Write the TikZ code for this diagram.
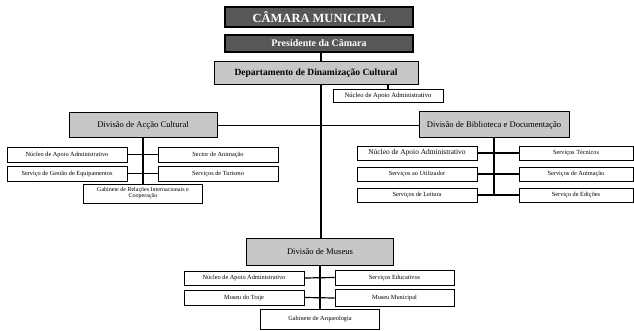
\documentclass[tikz,border=0pt]{standalone}
\usepackage{fontspec}
\setmainfont{Liberation Serif}
\usetikzlibrary{calc}

\begin{document}
\begin{tikzpicture}[x=1pt,y=-1pt,
    topbox/.style={draw=black,line width=1.4pt,fill=topcolor,text=white,font=\fontsize{12.5}{14}\bfseries,inner sep=0pt},
    divbox/.style={draw=black,line width=1pt,fill=divcolor,font=\fontsize{8.6}{10}\selectfont,inner sep=0pt},
    unitbox/.style={draw=black,line width=0.8pt,fill=white,font=\fontsize{6.3}{7}\selectfont,inner sep=0pt,align=center},
    link/.style={black,line width=1.2pt}]
    % Colores
    \colorlet{topcolor}{black!66}
    \colorlet{divcolor}{black!22}

    % Fondo
    \useasboundingbox (0,0) rectangle (634,331);
    \fill[white] (0,0) rectangle (634,331);

    % Coordenadas de los ejes
    \coordinate (trunk) at (321,0);

    % Presidencia y departamento
    \node[topbox,minimum width=188pt,minimum height=20pt] (camara) at (319,17) {CÂMARA MUNICIPAL};
    \node[topbox,minimum width=188pt,minimum height=17pt,font=\fontsize{10}{11}\bfseries] (pres) at (319,43.5) {Presidente da Câmara};
    \node[divbox,minimum width=204pt,minimum height=23pt,font=\fontsize{9.5}{11}\bfseries] (dept) at (316,73.5) {Departamento de Dinamização Cultural};
    \node[unitbox,minimum width=110pt,minimum height=13pt,font=\fontsize{6.6}{7}\selectfont] (dnuc) at (388,95.5) {Núcleo de Apoio Administrativo};

    \draw[link] (trunk |- pres.south) -- (trunk |- dept.north);
    \draw[link] (trunk |- dept.south) -- (trunk |- 0,238);
    \draw[link] (dnuc.north) -- (dnuc.north |- dept.south);

    % Divisiones
    \node[divbox,minimum width=148pt,minimum height=25pt] (acc) at (143,125.5) {Divisão\ de Acção Cultural};
    \node[divbox,minimum width=150pt,minimum height=26pt] (bib) at (494,125) {Divisão\ de Biblioteca e Documentação};
    \node[divbox,minimum width=147pt,minimum height=27pt] (mus) at (320,251.5) {Divisão\ de Museus};

    \draw[link] (acc.east) -- (acc.east -| bib.west);

    % Divisão de Acção Cultural
    \node[unitbox,minimum width=120pt,minimum height=15pt] (anuc) at (67,154.5) {Núcleo de Apoio Administrativo};
    \node[unitbox,minimum width=120pt,minimum height=15pt] (asec) at (218,154.5) {Sector de Animação};
    \node[unitbox,minimum width=120pt,minimum height=15pt] (ager) at (67,173.5) {Serviço de Gestão de Equipamentos};
    \node[unitbox,minimum width=120pt,minimum height=15pt] (atur) at (218,173.5) {Serviços de Turismo};
    \node[unitbox,minimum width=119pt,minimum height=19pt,font=\fontsize{6}{6}\selectfont] (agab) at (143,193.5) {Gabinete de Relações Internacionais e\\Cooperação};

    \draw[link] (acc.south) -- (agab.north);
    \foreach \l/\r in {anuc/asec,ager/atur}
    {
        \draw[link] (\l.east) -- (\r.west);
    }

    % Divisão de Biblioteca e Documentação
    \node[unitbox,minimum width=120pt,minimum height=14pt,font=\fontsize{7.4}{8}\selectfont] (bnuc) at (417,153) {Núcleo de Apoio Administrativo};
    \node[unitbox,minimum width=114pt,minimum height=14pt] (btec) at (576,153) {Serviços Técnicos};
    \node[unitbox,minimum width=120pt,minimum height=14pt] (buti) at (417,174) {Serviços ao Utilizador};
    \node[unitbox,minimum width=114pt,minimum height=14pt] (bani) at (576,174) {Serviços de Animação};
    \node[unitbox,minimum width=120pt,minimum height=14pt] (blei) at (417,195) {Serviços de Leitura};
    \node[unitbox,minimum width=114pt,minimum height=14pt] (bedi) at (576,195) {Serviço de Edições};

    \draw[link] (bib.south) -- (bib.south |- blei.east);
    \foreach \l/\r in {bnuc/btec,buti/bani,blei/bedi}
    {
        \draw[link] (\l.east) -- (\r.west);
    }

    % Divisão de Museus
    \node[unitbox,minimum width=120pt,minimum height=14pt] (mnuc) at (244,278) {Núcleo de Apoio Administrativo};
    \node[unitbox,minimum width=119pt,minimum height=15pt] (medu) at (394.5,277.5) {Serviços Educativos};
    \node[unitbox,minimum width=120pt,minimum height=15pt] (mtra) at (244,297.5) {Museu do Traje};
    \node[unitbox,minimum width=119pt,minimum height=17pt] (mmun) at (394.5,298) {Museu Municipal};
    \node[unitbox,minimum width=119pt,minimum height=20pt] (marq) at (320,319) {Gabinete de Arqueologia};

    \draw[link] (mus.south) -- (marq.north);
    \foreach \l/\r in {mnuc/medu,mtra/mmun}
    {
        \draw[link] (\l.east) -- (\r.west);
    }

\end{tikzpicture}
\end{document}
